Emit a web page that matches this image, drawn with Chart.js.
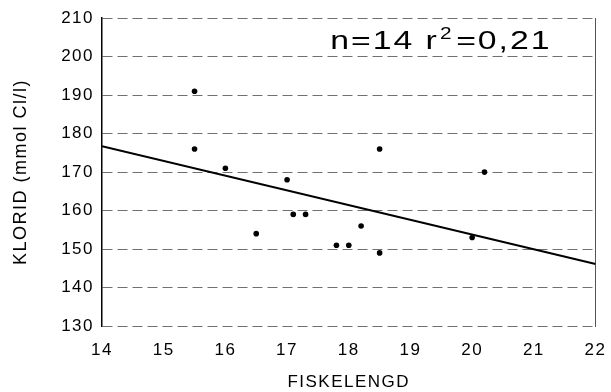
<!DOCTYPE html>
<html>
<head>
<meta charset="utf-8">
<script src="https://cdn.jsdelivr.net/npm/chart.js@4/dist/chart.umd.min.js"></script>
<style>
  html, body { margin: 0; padding: 0; background: #ffffff; }
  #wrap { width: 611px; height: 392px; }
</style>
</head>
<body>
<div id="wrap"><canvas id="c" width="611" height="392"></canvas></div>
<script>
// Data
const lengthValues  = [15.5, 15.5, 16.0, 16.5, 17.0, 17.1, 17.3, 17.8, 18.0, 18.2, 18.5, 18.5, 20.0, 20.2];
const chlorideValues = [191, 176, 171, 154, 168, 159, 159, 151, 151, 156, 176, 149, 153, 170];
const fitX = [14, 22];
const fitY = [176.7, 146.1];
const xTicks = [14, 15, 16, 17, 18, 19, 20, 21, 22];
const yTicks = [130, 140, 150, 160, 170, 180, 190, 200, 210];
const annotationMain = 'n=14 r';
const annotationSup = '2';
const annotationEnd = '=0,21';
const annotationAt = { x: 17.7, y: 202.0 };

const points = lengthValues.map((v, i) => ({ x: v, y: chlorideValues[i] }));
const fitLine = fitX.map((v, i) => ({ x: v, y: fitY[i] }));

const FONT = '"Liberation Sans", Arial, Helvetica, sans-serif';

const spacingPlugin = {
  id: 'spacing',
  beforeInit(chart) { chart.ctx.letterSpacing = '1.5px'; },
  beforeDraw(chart) { chart.ctx.letterSpacing = '1.5px'; }
};

const annotationPlugin = {
  id: 'annot',
  afterDatasetsDraw(chart) {
    const ctx = chart.ctx;
    const x = chart.scales.x.getPixelForValue(annotationAt.x);
    const y = chart.scales.y.getPixelForValue(annotationAt.y);
    ctx.save();
    ctx.letterSpacing = '1.5px';
    ctx.fillStyle = '#000';
    ctx.textBaseline = 'alphabetic';
    ctx.translate(x, y);
    ctx.scale(1.3, 1);
    ctx.font = '26px ' + FONT;
    let cx = 0;
    ctx.fillText(annotationMain, cx, 0);
    cx += ctx.measureText(annotationMain).width + 1;
    ctx.font = '16px ' + FONT;
    ctx.fillText(annotationSup, cx, -10);
    cx += ctx.measureText(annotationSup).width + 2;
    ctx.font = '26px ' + FONT;
    ctx.fillText(annotationEnd, cx, 0);
    ctx.restore();
  }
};

new Chart(document.getElementById('c'), {
  type: 'scatter',
  data: {
    datasets: [
      {
        label: 'fit',
        type: 'line',
        data: fitLine,
        borderColor: '#000',
        borderWidth: 2,
        pointRadius: 0,
        fill: false,
        tension: 0,
        order: 2
      },
      {
        label: 'points',
        data: points,
        backgroundColor: '#000',
        borderColor: '#000',
        borderWidth: 0,
        pointRadius: 2.8,
        order: 1
      }
    ]
  },
  options: {
    responsive: false,
    animation: false,
    devicePixelRatio: 1,
    layout: { padding: { top: 18, right: 0, bottom: 0, left: 0 } },
    plugins: {
      legend: { display: false },
      tooltip: { enabled: false }
    },
    scales: {
      x: {
        type: 'linear',
        min: 14, max: 22,
        afterBuildTicks(s) { s.ticks = xTicks.map(v => ({ value: v })); },
        afterFit(s) { s.height = 66; },
        ticks: { color: '#000', font: { family: FONT, size: 17 }, padding: 6, maxRotation: 0 },
        grid: { display: false },
        border: { display: false },
        title: { display: true, text: 'FISKELENGD', color: '#000', font: { family: FONT, size: 17, lineHeight: 1.0 }, padding: { top: 4, bottom: 1 } }
      },
      y: {
        type: 'linear',
        min: 130, max: 210,
        afterBuildTicks(s) { s.ticks = yTicks.map(v => ({ value: v })); },
        afterFit(s) { s.width = 102; },
        ticks: { color: '#000', font: { family: FONT, size: 17 }, padding: 8 },
        grid: { color: '#707070', lineWidth: 1, drawTicks: false },
        border: { display: true, color: '#000', width: 1.5, dash: [10, 5] },
        title: { display: true, text: 'KLORID (mmol Cl/l)', color: '#000', font: { family: FONT, size: 18 }, padding: { top: 10, bottom: 0 } }
      },
      y2: {
        type: 'linear',
        position: 'right',
        min: 130, max: 210,
        afterFit(s) { s.width = 15; },
        ticks: { display: false },
        grid: { display: false },
        border: { display: true, color: '#555', width: 1 }
      }
    }
  },
  plugins: [spacingPlugin, annotationPlugin]
});
</script>
</body>
</html>
